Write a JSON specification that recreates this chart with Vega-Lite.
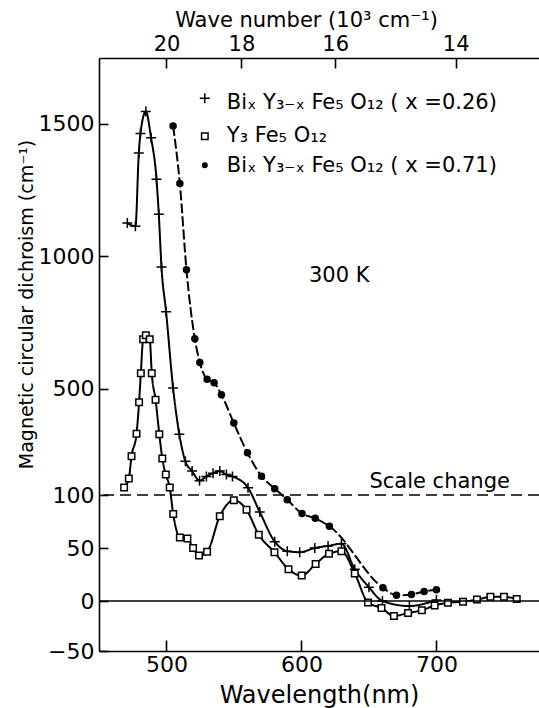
{
  "$schema": "https://vega.github.io/schema/vega-lite/v6.json",
  "width": 440,
  "height": 593,
  "autosize": "none",
  "padding": {"left": 99, "top": 58, "right": 0, "bottom": 57},
  "background": "white",
  "config": {
    "view": {"stroke": null},
    "font": "DejaVu Sans",
    "axis": {
      "domainColor": "black", "domainWidth": 1.6, "tickColor": "black", "tickWidth": 1.6,
      "labelColor": "black", "titleColor": "black", "labelFont": "DejaVu Sans", "titleFont": "DejaVu Sans",
      "titleFontWeight": "normal", "grid": false
    },
    "text": {"font": "DejaVu Sans", "fontSize": 21, "color": "black"}
  },
  "datasets": {
    "mcd": [
      {"s": "Bi0.26", "nm": 471, "v": 1125}, {"s": "Bi0.26", "nm": 477, "v": 1113}, {"s": "Bi0.26", "nm": 479.5, "v": 1389},
      {"s": "Bi0.26", "nm": 480.7, "v": 1462}, {"s": "Bi0.26", "nm": 484.7, "v": 1545}, {"s": "Bi0.26", "nm": 488.6, "v": 1446},
      {"s": "Bi0.26", "nm": 492.6, "v": 1290}, {"s": "Bi0.26", "nm": 494.3, "v": 1158}, {"s": "Bi0.26", "nm": 496.3, "v": 959},
      {"s": "Bi0.26", "nm": 499.7, "v": 791}, {"s": "Bi0.26", "nm": 504.9, "v": 503}, {"s": "Bi0.26", "nm": 509.5, "v": 329},
      {"s": "Bi0.26", "nm": 514, "v": 227}, {"s": "Bi0.26", "nm": 519, "v": 190}, {"s": "Bi0.26", "nm": 524.5, "v": 154},
      {"s": "Bi0.26", "nm": 529.6, "v": 170}, {"s": "Bi0.26", "nm": 534.5, "v": 182}, {"s": "Bi0.26", "nm": 539.5, "v": 190},
      {"s": "Bi0.26", "nm": 544.4, "v": 177}, {"s": "Bi0.26", "nm": 548.9, "v": 170}, {"s": "Bi0.26", "nm": 560.4, "v": 127},
      {"s": "Bi0.26", "nm": 569.1, "v": 84}, {"s": "Bi0.26", "nm": 580.2, "v": 56}, {"s": "Bi0.26", "nm": 589.5, "v": 47},
      {"s": "Bi0.26", "nm": 598.7, "v": 46}, {"s": "Bi0.26", "nm": 609.9, "v": 50}, {"s": "Bi0.26", "nm": 619.7, "v": 52},
      {"s": "Bi0.26", "nm": 629.6, "v": 54}, {"s": "Bi0.26", "nm": 639.5, "v": 30}, {"s": "Bi0.26", "nm": 650, "v": 13},
      {"s": "Bi0.26", "nm": 660, "v": 0}, {"s": "Bi0.26", "nm": 680, "v": -5}, {"s": "Bi0.26", "nm": 700, "v": 1},

      {"s": "YIG", "nm": 468.6, "v": 128}, {"s": "YIG", "nm": 472.1, "v": 162}, {"s": "YIG", "nm": 474.1, "v": 246},
      {"s": "YIG", "nm": 477.8, "v": 331}, {"s": "YIG", "nm": 479.7, "v": 450}, {"s": "YIG", "nm": 481, "v": 559},
      {"s": "YIG", "nm": 482.7, "v": 687}, {"s": "YIG", "nm": 484.7, "v": 702}, {"s": "YIG", "nm": 487.6, "v": 687},
      {"s": "YIG", "nm": 489.1, "v": 559}, {"s": "YIG", "nm": 491.9, "v": 459}, {"s": "YIG", "nm": 494.7, "v": 329},
      {"s": "YIG", "nm": 496.9, "v": 238}, {"s": "YIG", "nm": 499.5, "v": 177}, {"s": "YIG", "nm": 502.4, "v": 128},
      {"s": "YIG", "nm": 505, "v": 82}, {"s": "YIG", "nm": 509.9, "v": 60}, {"s": "YIG", "nm": 515.5, "v": 59},
      {"s": "YIG", "nm": 519.7, "v": 50}, {"s": "YIG", "nm": 524.1, "v": 43}, {"s": "YIG", "nm": 530.1, "v": 46.5},
      {"s": "YIG", "nm": 539.5, "v": 80}, {"s": "YIG", "nm": 549.9, "v": 95}, {"s": "YIG", "nm": 559.3, "v": 86},
      {"s": "YIG", "nm": 568.4, "v": 62.5}, {"s": "YIG", "nm": 580, "v": 46}, {"s": "YIG", "nm": 590.4, "v": 30},
      {"s": "YIG", "nm": 600.2, "v": 24}, {"s": "YIG", "nm": 610.5, "v": 35}, {"s": "YIG", "nm": 620.4, "v": 44.6},
      {"s": "YIG", "nm": 629.6, "v": 47}, {"s": "YIG", "nm": 639.5, "v": 26}, {"s": "YIG", "nm": 649.3, "v": -1.5},
      {"s": "YIG", "nm": 659.3, "v": -7}, {"s": "YIG", "nm": 668.5, "v": -15}, {"s": "YIG", "nm": 679, "v": -12},
      {"s": "YIG", "nm": 689.2, "v": -9.3}, {"s": "YIG", "nm": 698.7, "v": -4.5}, {"s": "YIG", "nm": 708.5, "v": -1.8},
      {"s": "YIG", "nm": 719.7, "v": -0.7}, {"s": "YIG", "nm": 730, "v": 1.3}, {"s": "YIG", "nm": 740, "v": 3.9},
      {"s": "YIG", "nm": 750, "v": 3.9}, {"s": "YIG", "nm": 759.5, "v": 1.8},

      {"s": "Bi0.71", "nm": 504.9, "v": 1491}, {"s": "Bi0.71", "nm": 509.9, "v": 1274}, {"s": "Bi0.71", "nm": 514.8, "v": 949},
      {"s": "Bi0.71", "nm": 521, "v": 689}, {"s": "Bi0.71", "nm": 524.7, "v": 599}, {"s": "Bi0.71", "nm": 530.1, "v": 536},
      {"s": "Bi0.71", "nm": 535.3, "v": 523}, {"s": "Bi0.71", "nm": 540.7, "v": 478}, {"s": "Bi0.71", "nm": 549.9, "v": 371},
      {"s": "Bi0.71", "nm": 560, "v": 259}, {"s": "Bi0.71", "nm": 570.4, "v": 171}, {"s": "Bi0.71", "nm": 580.2, "v": 124},
      {"s": "Bi0.71", "nm": 589.5, "v": 95.5}, {"s": "Bi0.71", "nm": 600.4, "v": 82.5}, {"s": "Bi0.71", "nm": 610.2, "v": 78},
      {"s": "Bi0.71", "nm": 620.7, "v": 70.5}, {"s": "Bi0.71", "nm": 660.4, "v": 12.5}, {"s": "Bi0.71", "nm": 670.4, "v": 5.4},
      {"s": "Bi0.71", "nm": 681.5, "v": 6.2}, {"s": "Bi0.71", "nm": 690.9, "v": 9}, {"s": "Bi0.71", "nm": 700, "v": 10.7}
    ]
  },
  "resolve": {"axis": {"x": "independent"}},
  "layer": [
    {
      "data": {"name": "mcd"},
      "mark": {"type": "line", "interpolate": "monotone", "color": "black", "strokeWidth": 2},
      "encoding": {
        "x": {"field": "nm", "type": "quantitative", "scale": {"domain": [450, 776], "nice": false, "zero": false},
              "axis": {"orient": "bottom", "title": "Wavelength(nm)", "values": [500, 600, 700], "tickSize": -11, "labelPadding": 14,
                       "labelFontSize": 22, "titleFontSize": 24, "titlePadding": 8}},
        "y": {"field": "v", "type": "quantitative", "scale": {"domain": [-50, 0, 100, 1747], "range": [593, 543, 437, 0], "nice": false, "zero": false},
              "axis": {"orient": "left", "title": "Magnetic circular dichroism (cm⁻¹)", "values": [-50, 0, 50, 100, 500, 1000, 1500], "format": "d",
                       "tickSize": -9, "labelPadding": 14, "labelFontSize": 22, "titleFontSize": 19, "titlePadding": 2, "titleY": 246}},
        "detail": {"field": "s", "type": "nominal"},
        "strokeDash": {"field": "s", "type": "nominal", "scale": {"domain": ["Bi0.26", "YIG", "Bi0.71"], "range": [[1, 0], [1, 0], [10, 3]]}, "legend": null}
      }
    },
    {
      "data": {"name": "mcd"},
      "mark": {"type": "point", "filled": true, "stroke": "black", "strokeWidth": 1.5, "size": 100, "opacity": 1},
      "encoding": {
        "x": {"field": "nm", "type": "quantitative", "scale": {"domain": [450, 776], "nice": false, "zero": false},
              "axis": {"orient": "top", "title": "Wave number (10³ cm⁻¹)", "values": [500, 555.5556, 625, 714.2857],
                       "labelExpr": "format(10000 / datum.value, '.0f')", "tickSize": -10, "labelPadding": 14,
                       "labelFontSize": 21, "titleFontSize": 21, "titlePadding": 3, "titleX": 207}},
        "y": {"field": "v", "type": "quantitative", "scale": {"domain": [-50, 0, 100, 1747], "range": [593, 543, 437, 0], "nice": false, "zero": false},
              "axis": {"orient": "left", "title": "Magnetic circular dichroism (cm⁻¹)", "values": [-50, 0, 50, 100, 500, 1000, 1500], "format": "d",
                       "tickSize": -9, "labelPadding": 14, "labelFontSize": 22, "titleFontSize": 19, "titlePadding": 2, "titleY": 246}},
        "shape": {"field": "s", "type": "nominal",
                  "scale": {"domain": ["Bi0.26", "YIG", "Bi0.71"],
                            "range": ["M-1,0H1M0,-1V1", "M-0.65,-0.65H0.65V0.65H-0.65Z", "M0.6,0A0.6,0.6,0,1,1,-0.6,0A0.6,0.6,0,1,1,0.6,0Z"]},
                  "legend": null},
        "fill": {"field": "s", "type": "nominal", "scale": {"domain": ["Bi0.26", "YIG", "Bi0.71"], "range": ["black", "white", "black"]}, "legend": null}
      }
    },
    {
      "data": {"values": [{}]},
      "mark": {"type": "rule", "strokeDash": [11, 6], "strokeWidth": 1.4, "color": "black"},
      "encoding": {
        "y": {"datum": 100, "type": "quantitative", "scale": {"domain": [-50, 0, 100, 1747], "range": [593, 543, 437, 0], "nice": false, "zero": false}}
      }
    },
    {
      "data": {"values": [{}]},
      "mark": {"type": "rule", "strokeWidth": 1.5, "color": "black"},
      "encoding": {
        "y": {"datum": 0, "type": "quantitative", "scale": {"domain": [-50, 0, 100, 1747], "range": [593, 543, 437, 0], "nice": false, "zero": false}}
      }
    },
    {
      "data": {"values": [{}]},
      "mark": {"type": "point", "shape": "M-1,0H1M0,-1V1", "size": 100, "filled": true, "fill": "black", "stroke": "black", "strokeWidth": 1.5, "opacity": 1},
      "encoding": {
        "x": {"datum": 528.4, "type": "quantitative", "scale": {"domain": [450, 776], "nice": false, "zero": false}, "axis": null},
        "y": {"datum": 1595, "type": "quantitative", "scale": {"domain": [-50, 0, 100, 1747], "range": [593, 543, 437, 0], "nice": false, "zero": false}}
      }
    },
    {
      "data": {"values": [{}]},
      "mark": {"type": "point", "shape": "M-0.65,-0.65H0.65V0.65H-0.65Z", "size": 100, "filled": true, "fill": "white", "stroke": "black", "strokeWidth": 1.5, "opacity": 1},
      "encoding": {
        "x": {"datum": 528.4, "type": "quantitative", "scale": {"domain": [450, 776], "nice": false, "zero": false}, "axis": null},
        "y": {"datum": 1452, "type": "quantitative", "scale": {"domain": [-50, 0, 100, 1747], "range": [593, 543, 437, 0], "nice": false, "zero": false}}
      }
    },
    {
      "data": {"values": [{}]},
      "mark": {"type": "point", "shape": "M0.45,0A0.45,0.45,0,1,1,-0.45,0A0.45,0.45,0,1,1,0.45,0Z", "size": 100, "filled": true, "fill": "black", "stroke": "black", "strokeWidth": 1.5, "opacity": 1},
      "encoding": {
        "x": {"datum": 528.4, "type": "quantitative", "scale": {"domain": [450, 776], "nice": false, "zero": false}, "axis": null},
        "y": {"datum": 1343, "type": "quantitative", "scale": {"domain": [-50, 0, 100, 1747], "range": [593, 543, 437, 0], "nice": false, "zero": false}}
      }
    },
    {
      "data": {"values": [{}]},
      "mark": {"type": "text", "text": "Biₓ Y₃₋ₓ Fe₅ O₁₂ ( x =0.26)", "align": "left", "baseline": "alphabetic"},
      "encoding": {
        "x": {"datum": 544.7, "type": "quantitative", "scale": {"domain": [450, 776], "nice": false, "zero": false}, "axis": null},
        "y": {"datum": 1556, "type": "quantitative", "scale": {"domain": [-50, 0, 100, 1747], "range": [593, 543, 437, 0], "nice": false, "zero": false}}
      }
    },
    {
      "data": {"values": [{}]},
      "mark": {"type": "text", "text": "Y₃ Fe₅ O₁₂", "align": "left", "baseline": "alphabetic"},
      "encoding": {
        "x": {"datum": 544.7, "type": "quantitative", "scale": {"domain": [450, 776], "nice": false, "zero": false}, "axis": null},
        "y": {"datum": 1430, "type": "quantitative", "scale": {"domain": [-50, 0, 100, 1747], "range": [593, 543, 437, 0], "nice": false, "zero": false}}
      }
    },
    {
      "data": {"values": [{}]},
      "mark": {"type": "text", "text": "Biₓ Y₃₋ₓ Fe₅ O₁₂ ( x =0.71)", "align": "left", "baseline": "alphabetic"},
      "encoding": {
        "x": {"datum": 544.7, "type": "quantitative", "scale": {"domain": [450, 776], "nice": false, "zero": false}, "axis": null},
        "y": {"datum": 1317, "type": "quantitative", "scale": {"domain": [-50, 0, 100, 1747], "range": [593, 543, 437, 0], "nice": false, "zero": false}}
      }
    },
    {
      "data": {"values": [{}]},
      "mark": {"type": "text", "text": "300 K", "align": "center", "baseline": "middle"},
      "encoding": {
        "x": {"datum": 628, "type": "quantitative", "scale": {"domain": [450, 776], "nice": false, "zero": false}, "axis": null},
        "y": {"datum": 924, "type": "quantitative", "scale": {"domain": [-50, 0, 100, 1747], "range": [593, 543, 437, 0], "nice": false, "zero": false}}
      }
    },
    {
      "data": {"values": [{}]},
      "mark": {"type": "text", "text": "Scale change", "align": "center", "baseline": "alphabetic"},
      "encoding": {
        "x": {"datum": 702.4, "type": "quantitative", "scale": {"domain": [450, 776], "nice": false, "zero": false}, "axis": null},
        "y": {"datum": 124.5, "type": "quantitative", "scale": {"domain": [-50, 0, 100, 1747], "range": [593, 543, 437, 0], "nice": false, "zero": false}}
      }
    }
  ]
}
